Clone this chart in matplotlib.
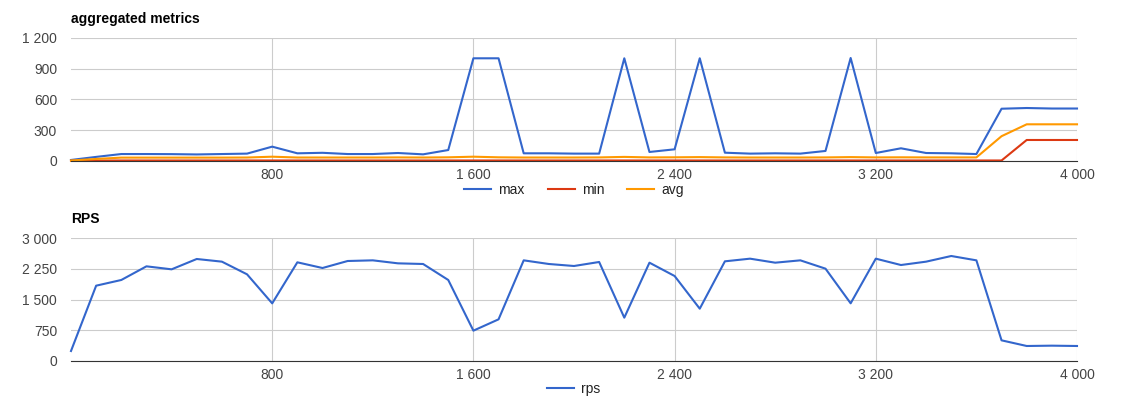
import numpy as np
import matplotlib
matplotlib.use('Agg')
import matplotlib.pyplot as plt
from matplotlib.ticker import FuncFormatter

plt.rcParams['font.family'] = ['Liberation Sans', 'DejaVu Sans']

# data, one point every 100 requests
x = list(range(0, 4100, 100))

max_ms = [10, 40, 68, 68, 67, 64, 68, 72, 140, 75,
          80, 68, 68, 78, 65, 107, 1002, 1002, 75, 75,
          72, 72, 1002, 88, 114, 1002, 81, 72, 75, 72,
          98, 1005, 78, 124, 78, 75, 68, 510, 517, 512, 512]
min_ms = [2, 4, 5, 5, 5, 5, 5, 5, 5, 5,
          5, 5, 5, 5, 5, 5, 5, 5, 5, 5,
          5, 5, 5, 5, 5, 5, 5, 5, 5, 5,
          5, 5, 5, 5, 5, 5, 5, 5, 205, 205, 205]
avg_ms = [5, 20, 33, 33, 33, 33, 33, 34, 42, 34,
          34, 34, 34, 35, 34, 36, 42, 36, 34, 34,
          34, 35, 40, 35, 36, 38, 35, 34, 34, 34,
          35, 38, 35, 36, 35, 35, 35, 242, 358, 358, 358]
rps = [244, 1837, 1976, 2309, 2236, 2488, 2423, 2114, 1406, 2407,
       2268, 2439, 2455, 2382, 2366, 1976, 740, 1016, 2455, 2366,
       2317, 2415, 1057, 2398, 2073, 1276, 2431, 2496, 2398, 2455,
       2252, 1407, 2496, 2341, 2423, 2561, 2455, 504, 366, 374, 366]

xticks = [800, 1600, 2400, 3200, 4000]
yticks_top = [0, 300, 600, 900, 1200]
yticks_bot = [0, 750, 1500, 2250, 3000]

blue = '#3366cc'
red = '#dc3912'
orange = '#ff9900'
fs = 10


def spaced(v, pos=None):
    return '{:,}'.format(int(v)).replace(',', ' ')


def style(axe, yticks, title):
    axe.set_xlim(0, 4000)
    axe.set_ylim(yticks[0], yticks[-1])
    axe.set_xticks(xticks)
    axe.set_yticks(yticks)
    axe.xaxis.set_major_formatter(FuncFormatter(spaced))
    axe.yaxis.set_major_formatter(FuncFormatter(spaced))
    axe.grid(True, color='#cccccc', linewidth=0.8)
    axe.set_axisbelow(True)
    for s in ['top', 'left', 'right']:
        axe.spines[s].set_visible(False)
    axe.spines['bottom'].set_color('#333333')
    axe.spines['bottom'].set_linewidth(0.8)
    axe.tick_params(length=0, labelsize=fs, labelcolor='#444444')
    axe.tick_params(axis='x', pad=5)
    axe.tick_params(axis='y', pad=10)
    axe.text(0, 1.154, title, transform=axe.transAxes, fontsize=fs,
             fontweight='bold', va='center', ha='left')


fig = plt.figure(figsize=(11.39, 3.98), dpi=100)
ax1 = fig.add_axes([71 / 1139, 1 - 161 / 398, 1006 / 1139, 123 / 398])
ax2 = fig.add_axes([71 / 1139, 1 - 361 / 398, 1006 / 1139, 123 / 398])

lw = 1.5
ax1.plot(x, max_ms, color=blue, lw=lw, label='max', clip_on=False)
ax1.plot(x, min_ms, color=red, lw=lw, label='min', clip_on=False)
ax1.plot(x, avg_ms, color=orange, lw=lw, label='avg', clip_on=False)
style(ax1, yticks_top, 'aggregated metrics')
ax1.legend(loc='center', bbox_to_anchor=(0.5, -0.236), ncol=3, frameon=False,
           fontsize=fs, handlelength=1.95, handletextpad=0.5, columnspacing=1.65)

ax2.plot(x, rps, color=blue, lw=lw, label='rps', clip_on=False)
style(ax2, yticks_bot, 'RPS')
ax2.legend(loc='center', bbox_to_anchor=(0.5, -0.228), ncol=1, frameon=False,
           fontsize=fs, handlelength=1.95, handletextpad=0.5)

for axe in (ax1, ax2):
    for t in axe.get_legend().get_texts():
        t.set_color('#222222')

fig.savefig('out.png', dpi=100)
plt.close()
